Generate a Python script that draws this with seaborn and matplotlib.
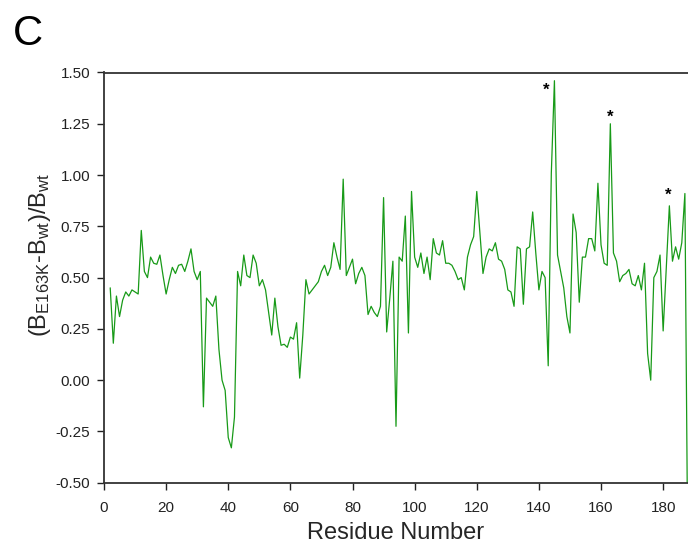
import numpy as np
import pandas as pd
import matplotlib
matplotlib.use("Agg")
import matplotlib.pyplot as plt
import seaborn as sns

# residues 2..188, relative B-factor change
residues = list(range(2, 189))
values = [
    0.45, 0.18, 0.41, 0.31, 0.39, 0.43, 0.41, 0.44, 0.43, 0.42,      # 2-11
    0.73, 0.53, 0.50, 0.60, 0.57, 0.565, 0.61, 0.51, 0.42, 0.49,     # 12-21
    0.55, 0.52, 0.56, 0.565, 0.53, 0.58, 0.64, 0.53, 0.49, 0.53,     # 22-31
    -0.13, 0.40, 0.38, 0.36, 0.41, 0.15, 0.00, -0.05, -0.28, -0.33,  # 32-41
    -0.18, 0.53, 0.46, 0.61, 0.51, 0.50, 0.61, 0.57, 0.46, 0.49,     # 42-51
    0.44, 0.33, 0.22, 0.40, 0.26, 0.17, 0.175, 0.16, 0.21, 0.20,     # 52-61
    0.28, 0.01, 0.22, 0.49, 0.42, 0.44, 0.46, 0.48, 0.53, 0.56,      # 62-71
    0.51, 0.55, 0.67, 0.60, 0.54, 0.98, 0.51, 0.55, 0.59, 0.47,      # 72-81
    0.52, 0.55, 0.51, 0.32, 0.36, 0.33, 0.31, 0.36, 0.89, 0.235,     # 82-91
    0.40, 0.58, -0.225, 0.60, 0.58, 0.80, 0.23, 0.92, 0.60, 0.55,    # 92-101
    0.62, 0.52, 0.60, 0.49, 0.69, 0.62, 0.61, 0.68, 0.57, 0.57,      # 102-111
    0.56, 0.53, 0.49, 0.50, 0.44, 0.60, 0.66, 0.70, 0.92, 0.72,      # 112-121
    0.52, 0.60, 0.64, 0.63, 0.67, 0.59, 0.58, 0.54, 0.44, 0.43,      # 122-131
    0.36, 0.65, 0.64, 0.37, 0.64, 0.65, 0.82, 0.62, 0.44, 0.53,      # 132-141
    0.50, 0.07, 1.01, 1.46, 0.61, 0.53, 0.45, 0.31, 0.23, 0.81,      # 142-151
    0.72, 0.38, 0.60, 0.60, 0.69, 0.69, 0.63, 0.96, 0.66, 0.57,      # 152-161
    0.56, 1.25, 0.62, 0.58, 0.48, 0.51, 0.52, 0.54, 0.47, 0.46,      # 162-171
    0.51, 0.44, 0.57, 0.13, 0.00, 0.50, 0.53, 0.61, 0.24, 0.55,      # 172-181
    0.85, 0.58, 0.65, 0.59, 0.67, 0.91, -1.00,                       # 182-188
]

# significance markers
star_x = [142.4, 162.9, 181.5]
star_y = [1.415, 1.28, 0.90]

xticks = list(range(0, 181, 20))
yticks = [-0.50, -0.25, 0.00, 0.25, 0.50, 0.75, 1.00, 1.25, 1.50]

df = pd.DataFrame({"residue": residues, "delta": values})

sns.set_style("ticks")
plt.rcParams["font.family"] = ["Liberation Sans", "DejaVu Sans"]
plt.rcParams["mathtext.fontset"] = "custom"
plt.rcParams["mathtext.rm"] = "Liberation Sans"
plt.rcParams["mathtext.it"] = "Liberation Sans"

fig = plt.figure(figsize=(6.88, 5.5), dpi=100)
ax = fig.add_axes([104 / 688, 1 - 482.7 / 550, 584 / 688, (482.7 - 72.5) / 550])

sns.lineplot(data=df, x="residue", y="delta", ax=ax, color="#189a18", linewidth=0.9)

for sx, sy in zip(star_x, star_y):
    ax.text(sx, sy, "*", ha="center", va="center", fontsize=12, fontweight="bold", color="black")

ax.set_xlim(0, 188)
ax.set_ylim(-0.5, 1.5)
ax.set_xticks(xticks)
ax.set_yticks(yticks)
ax.set_yticklabels([f"{t:.2f}" for t in yticks])
ax.tick_params(axis="both", direction="out", length=5, width=1, labelsize=11, colors="#222222")
ax.tick_params(axis="x", pad=8)
ax.tick_params(axis="y", pad=5)

for side in ["left", "bottom", "top"]:
    ax.spines[side].set_color("#333333")
    ax.spines[side].set_linewidth(1.3)
ax.spines["right"].set_visible(False)

ax.set_xlabel("Residue Number", fontsize=17, labelpad=5)
ax.set_ylabel(r"(B$_{\mathrm{E163K}}$-B$_{\mathrm{wt}}$)/B$_{\mathrm{wt}}$", fontsize=17)
ax.yaxis.set_label_coords((53 - 104) / 584, (482.7 - 255) / 410.2)

fig.text(13 / 688, 1 - 45 / 550, "C", fontsize=30, color="black")

fig.savefig("out.png", dpi=100)
